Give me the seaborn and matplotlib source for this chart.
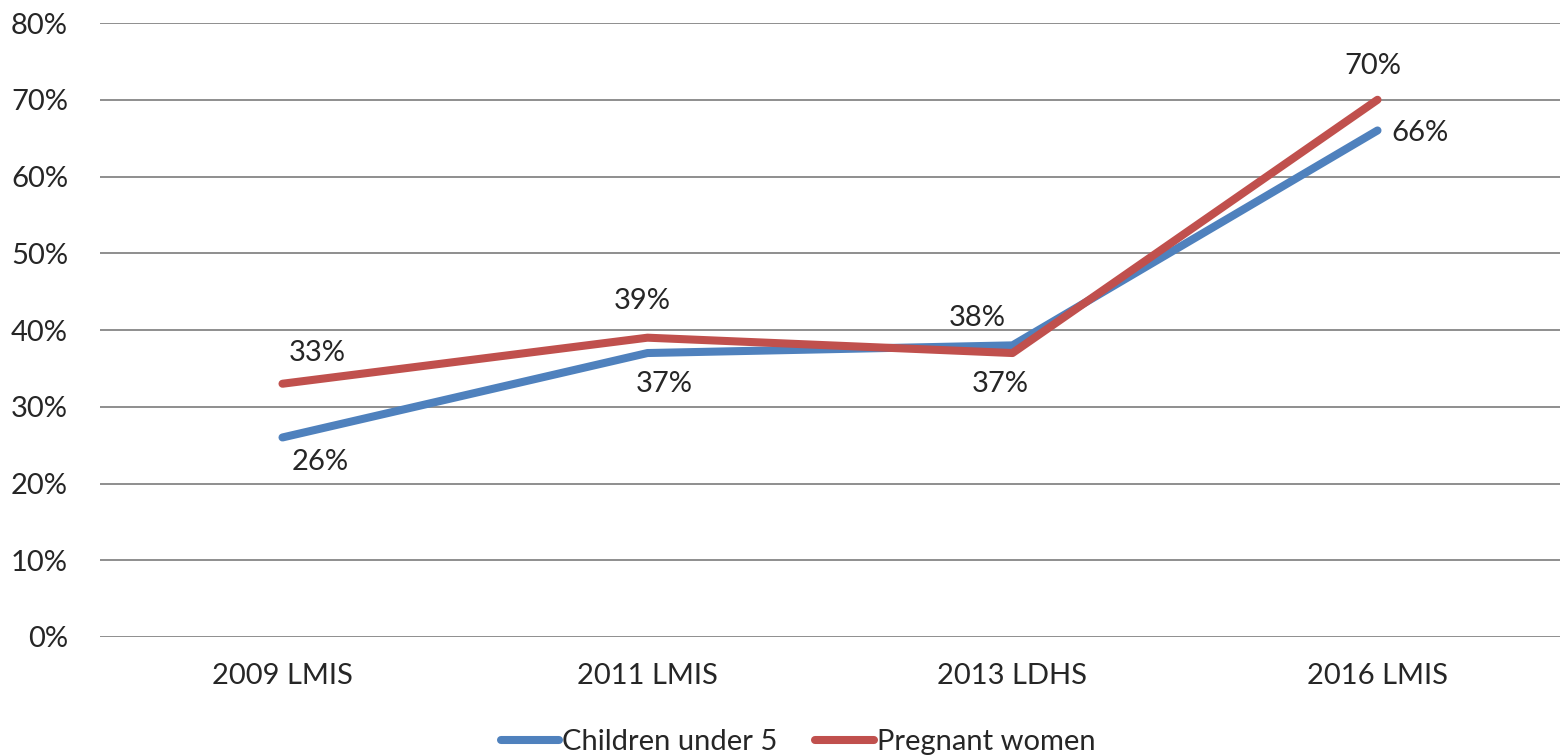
import pandas as pd
import numpy as np
import seaborn as sns
import matplotlib.pyplot as plt

# values (percent)
surveys = ["2009 LMIS", "2011 LMIS", "2013 LDHS", "2016 LMIS"]
children = [26, 37, 38, 66]
pregnant = [33, 39, 37, 70]

blue = "#4F81BD"
red = "#C0504D"

sns.set_theme(style="white")
plt.rcParams['font.family'] = ['Lato', 'DejaVu Sans']

df = pd.DataFrame({
    "survey": surveys * 2,
    "pos": list(range(len(surveys))) * 2,
    "value": children + pregnant,
    "group": ["Children under 5"] * 4 + ["Pregnant women"] * 4,
})

fig = plt.figure(figsize=(15.6, 7.55), dpi=100)
ax = fig.add_axes([0.0641, 0.1563, 0.9359, 0.8132])

sns.lineplot(data=df, x="pos", y="value", hue="group", palette=[blue, red],
             linewidth=5.8, ax=ax, legend=False, solid_capstyle="round",
             errorbar=None)

ax.set_xlim(-0.5, 3.5)
ax.set_ylim(0, 80)
ax.set_yticks(np.arange(0, 81, 10))
ax.set_yticklabels([f"{v}%" for v in range(0, 81, 10)])
ax.set_xticks(range(len(surveys)))
ax.set_xticklabels(surveys)
ax.tick_params(axis="y", length=0, pad=23, labelsize=21)
ax.tick_params(axis="x", length=0, pad=19, labelsize=21)
ax.set_xlabel("")
ax.set_ylabel("")
ax.yaxis.grid(True, color="#868686", linewidth=1.3)
ax.set_axisbelow(True)
for s in ax.spines.values():
    s.set_visible(False)

# data labels, offsets in pixels
child_off = [(38, -25), (17, -31), (-35, 27), (43, -3)]
preg_off = [(35, 31), (-5, 37), (-12, -31), (-5, 34)]
for i in range(len(surveys)):
    ax.annotate(f"{children[i]}%", (i, children[i]), xytext=child_off[i],
                textcoords="offset pixels", ha="center", va="center", fontsize=21)
    ax.annotate(f"{pregnant[i]}%", (i, pregnant[i]), xytext=preg_off[i],
                textcoords="offset pixels", ha="center", va="center", fontsize=21)

handles = [plt.Line2D([], [], color=blue, linewidth=5.8, solid_capstyle="round"),
           plt.Line2D([], [], color=red, linewidth=5.8, solid_capstyle="round")]
fig.legend(handles, ["Children under 5", "Pregnant women"], loc="center",
           bbox_to_anchor=(798 / 1560, 1 - 742 / 755), ncol=2, frameon=False,
           fontsize=21, handlelength=2.0, handletextpad=0.1, columnspacing=1.3)

fig.savefig("out.png", dpi=100)
